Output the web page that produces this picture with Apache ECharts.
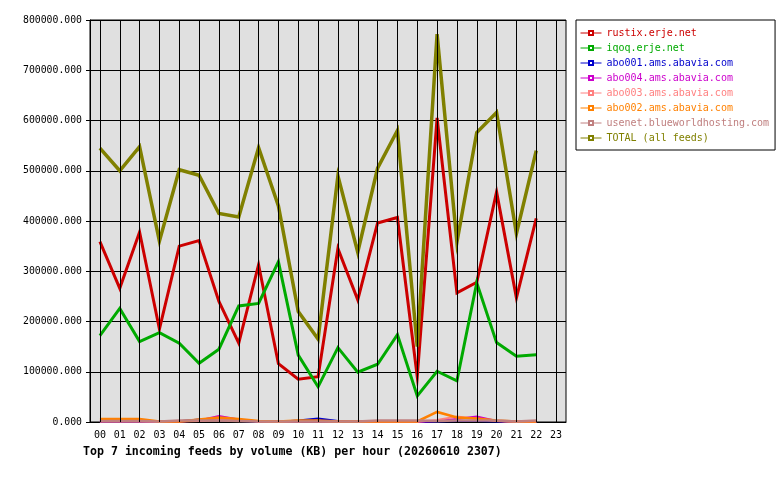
<!DOCTYPE html>
<html>
<head>
<meta charset="utf-8">
<script src="https://cdn.jsdelivr.net/npm/echarts@6/dist/echarts.min.js"></script>
<style>
  html, body { margin: 0; padding: 0; background: #fff; }
  #chart { width: 780px; height: 480px; }
</style>
</head>
<body>
<div id="chart"></div>
<script>
// hours on the x axis
const hours = ['00','01','02','03','04','05','06','07','08','09','10','11',
               '12','13','14','15','16','17','18','19','20','21','22','23'];

// KB per hour (hour 23 has no data)
const rustix = [359000, 266000, 378000, 185000, 350000, 361000, 240000, 157000, 313000, 116000, 85000, 90000,
                345000, 243000, 396000, 407000, 90000, 605000, 257000, 278000, 458000, 247000, 405000];
const iqoq = [172000, 226000, 160000, 178000, 157000, 117000, 145000, 231000, 236000, 319000, 133000, 70000,
              148000, 99000, 115000, 174000, 52000, 101000, 82000, 277000, 158000, 131000, 134000];
const abo001 = [1000, 1000, 1000, 500, 1500, 5000, 4000, 2000, 1000, 500, 3000, 7000,
                2000, 500, 500, 500, 500, 1000, 2000, 2000, 1000, 500, 500];
const abo004 = [1000, 1000, 1000, 500, 1000, 3000, 12000, 5000, 1000, 500, 1000, 1000,
                500, 500, 500, 500, 500, 2000, 6000, 11000, 2000, 500, 500];
const abo003 = [1000, 1000, 1000, 500, 1000, 2000, 4000, 3000, 1000, 500, 1000, 1000,
                500, 500, 500, 500, 500, 4000, 11000, 6000, 2000, 500, 500];
const abo002 = [6000, 6000, 6000, 1000, 1000, 5000, 9000, 6000, 2000, 1000, 3000, 3000,
                1000, 1000, 1000, 1000, 1000, 20000, 9000, 7000, 3000, 1000, 1000];
const usenet = [2000, 2000, 2000, 1000, 3000, 3000, 3000, 2000, 1000, 1000, 1000, 1000,
                1000, 1000, 3000, 3000, 3000, 2000, 3000, 3000, 3000, 1000, 3000];
const total = [545000, 500000, 548000, 360000, 502000, 491000, 415000, 408000, 546000, 430000, 220000, 165000,
               490000, 338000, 505000, 580000, 150000, 772000, 358000, 576000, 616000, 375000, 540000];

const yTicks = [0, 100000, 200000, 300000, 400000, 500000, 600000, 700000, 800000];

const feeds = [
    {name: 'rustix.erje.net', data: rustix, color: '#cc0000', width: 3},
    {name: 'iqoq.erje.net', data: iqoq, color: '#00aa00', width: 3},
    {name: 'abo001.ams.abavia.com', data: abo001, color: '#0000cc', width: 2},
    {name: 'abo004.ams.abavia.com', data: abo004, color: '#cc00cc', width: 2},
    {name: 'abo003.ams.abavia.com', data: abo003, color: '#ff8080', width: 2},
    {name: 'abo002.ams.abavia.com', data: abo002, color: '#ff8000', width: 2.5},
    {name: 'usenet.blueworldhosting.com', data: usenet, color: '#c08080', width: 2.5},
    {name: 'TOTAL (all feeds)', data: total, color: '#808000', width: 3.5},
];

const mono = 'DejaVu Sans Mono';

const chart = echarts.init(document.getElementById('chart'));

const series = feeds.map(f => ({
    name: f.name,
    type: 'line',
    data: f.data,
    z: 3,
    symbol: 'emptyRect',
    symbolSize: [5, 4],
    showSymbol: false,
    animation: false,
    lineStyle: {color: f.color, width: f.width, join: 'miter'},
    itemStyle: {color: f.color, borderWidth: 1},
}));

// vertical grid lines sit on the hour centres, so draw them as mark lines
series.unshift({
    name: 'grid',
    type: 'line',
    data: [],
    z: 1,
    silent: true,
    animation: false,
    markLine: {
        silent: true,
        symbol: ['none', 'none'],
        label: {show: false},
        animation: false,
        lineStyle: {color: '#000', width: 1, type: 'solid'},
        data: hours.map((h, i) => ({xAxis: i})),
    },
});

const option = {
    animation: false,
    title: {
        text: 'Top 7 incoming feeds by volume (KB) per hour (20260610 2307)',
        left: 83,
        top: 446,
        padding: 0,
        textStyle: {fontFamily: mono, fontSize: 11.6, fontWeight: 'bold', color: '#000'},
    },
    legend: {
        data: feeds.map(f => ({name: f.name, textStyle: {color: f.color}})),
        orient: 'vertical',
        left: 576,
        top: 20,
        padding: [8, 6, 7, 4],
        itemWidth: 21,
        itemHeight: 5,
        itemGap: 5,
        backgroundColor: '#fff',
        borderColor: '#000',
        borderWidth: 1,
        borderRadius: 0,
        selectedMode: false,
        lineStyle: {width: 1},
        itemStyle: {borderWidth: 1},
        textStyle: {fontFamily: mono, fontSize: 10, lineHeight: 10},
    },
    grid: {
        left: 90, top: 20, width: 476, height: 402,
        show: true,
        backgroundColor: '#e0e0e0',
        borderColor: '#000',
        borderWidth: 1,
    },
    xAxis: {
        type: 'category',
        data: hours,
        boundaryGap: true,
        axisLine: {lineStyle: {color: '#000', width: 1}},
        axisTick: {alignWithLabel: true, length: 5, lineStyle: {color: '#000'}},
        axisLabel: {fontFamily: mono, fontSize: 10, color: '#000', margin: 8},
        splitLine: {show: false},
    },
    yAxis: {
        type: 'value',
        min: yTicks[0],
        max: yTicks[yTicks.length - 1],
        interval: 100000,
        axisLine: {show: true, lineStyle: {color: '#000', width: 1}},
        axisTick: {show: true, length: 4, lineStyle: {color: '#000'}},
        axisLabel: {
            fontFamily: mono, fontSize: 9.8, color: '#000', margin: 8,
            formatter: v => v.toFixed(3),
        },
        splitLine: {show: true, lineStyle: {color: '#000', width: 1}},
    },
    series: series,
};

chart.setOption(option);
</script>
</body>
</html>
